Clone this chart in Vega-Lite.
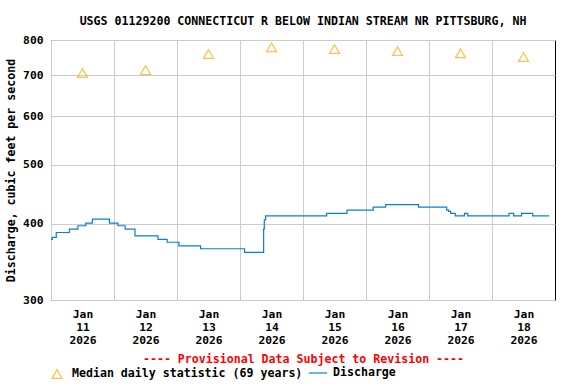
{
  "$schema": "https://vega.github.io/schema/vega-lite/v6.json",
  "width": 504,
  "height": 260,
  "autosize": "none",
  "padding": {"left": 51, "top": 40, "right": 21, "bottom": 84},
  "background": "white",
  "config": {
    "font": "DejaVu Sans Mono",
    "view": {"stroke": "black", "strokeWidth": 1}
  },
  "title": {
    "text": "USGS 01129200 CONNECTICUT R BELOW INDIAN STREAM NR PITTSBURG, NH",
    "font": "DejaVu Sans Mono",
    "fontSize": 11.6,
    "fontWeight": "bold",
    "anchor": "middle",
    "frame": "group",
    "baseline": "bottom",
    "offset": -5,
    "color": "black"
  },
  "datasets": {
    "discharge": [
      {"time": "2026-01-11T00:00:00Z", "cfs": 377},
      {"time": "2026-01-11T00:30:00Z", "cfs": 380},
      {"time": "2026-01-11T02:00:00Z", "cfs": 387},
      {"time": "2026-01-11T07:00:00Z", "cfs": 392},
      {"time": "2026-01-11T10:15:00Z", "cfs": 397},
      {"time": "2026-01-11T13:15:00Z", "cfs": 401},
      {"time": "2026-01-11T15:45:00Z", "cfs": 407},
      {"time": "2026-01-11T22:15:00Z", "cfs": 401},
      {"time": "2026-01-12T01:30:00Z", "cfs": 397},
      {"time": "2026-01-12T04:15:00Z", "cfs": 392},
      {"time": "2026-01-12T08:00:00Z", "cfs": 382},
      {"time": "2026-01-12T16:45:00Z", "cfs": 377},
      {"time": "2026-01-12T20:15:00Z", "cfs": 373},
      {"time": "2026-01-13T00:45:00Z", "cfs": 368},
      {"time": "2026-01-13T09:00:00Z", "cfs": 364},
      {"time": "2026-01-14T01:45:00Z", "cfs": 359},
      {"time": "2026-01-14T09:00:00Z", "cfs": 392},
      {"time": "2026-01-14T09:15:00Z", "cfs": 406},
      {"time": "2026-01-14T09:45:00Z", "cfs": 412},
      {"time": "2026-01-15T09:00:00Z", "cfs": 416},
      {"time": "2026-01-15T16:45:00Z", "cfs": 421},
      {"time": "2026-01-16T02:45:00Z", "cfs": 426},
      {"time": "2026-01-16T07:30:00Z", "cfs": 430},
      {"time": "2026-01-16T20:00:00Z", "cfs": 426},
      {"time": "2026-01-17T06:45:00Z", "cfs": 421},
      {"time": "2026-01-17T07:30:00Z", "cfs": 419},
      {"time": "2026-01-17T08:15:00Z", "cfs": 416},
      {"time": "2026-01-17T10:00:00Z", "cfs": 412},
      {"time": "2026-01-17T13:30:00Z", "cfs": 416},
      {"time": "2026-01-17T14:45:00Z", "cfs": 412},
      {"time": "2026-01-18T06:30:00Z", "cfs": 416},
      {"time": "2026-01-18T08:15:00Z", "cfs": 412},
      {"time": "2026-01-18T11:15:00Z", "cfs": 416},
      {"time": "2026-01-18T15:30:00Z", "cfs": 412},
      {"time": "2026-01-18T21:45:00Z", "cfs": 412}
    ],
    "median": [
      {"time": "2026-01-11T12:00:00Z", "cfs": 706},
      {"time": "2026-01-12T12:00:00Z", "cfs": 714},
      {"time": "2026-01-13T12:00:00Z", "cfs": 759},
      {"time": "2026-01-14T12:00:00Z", "cfs": 778},
      {"time": "2026-01-15T12:00:00Z", "cfs": 773},
      {"time": "2026-01-16T12:00:00Z", "cfs": 767},
      {"time": "2026-01-17T12:00:00Z", "cfs": 761},
      {"time": "2026-01-18T12:00:00Z", "cfs": 750}
    ]
  },
  "encoding": {
    "x": {
      "field": "time",
      "type": "temporal",
      "scale": {
        "type": "utc",
        "domain": [
          {"year": 2026, "month": 1, "date": 11, "utc": true},
          {"year": 2026, "month": 1, "date": 19, "utc": true}
        ]
      },
      "axis": {
        "values": [
          {"year": 2026, "month": 1, "date": 11, "utc": true},
          {"year": 2026, "month": 1, "date": 12, "utc": true},
          {"year": 2026, "month": 1, "date": 13, "utc": true},
          {"year": 2026, "month": 1, "date": 14, "utc": true},
          {"year": 2026, "month": 1, "date": 15, "utc": true},
          {"year": 2026, "month": 1, "date": 16, "utc": true},
          {"year": 2026, "month": 1, "date": 17, "utc": true},
          {"year": 2026, "month": 1, "date": 18, "utc": true}
        ],
        "labelExpr": "[utcFormat(datum.value,'%b'), utcFormat(datum.value,'%d'), utcFormat(datum.value,'%Y')]",
        "labelOffset": 31.5,
        "ticks": false,
        "domain": false,
        "grid": true,
        "gridColor": "#CCCCCC",
        "gridWidth": 1,
        "labelFont": "DejaVu Sans Mono",
        "labelFontWeight": "bold",
        "labelFontSize": 11.3,
        "labelColor": "black",
        "labelLineHeight": 13,
        "labelBaseline": "top",
        "labelAlign": "center",
        "labelPadding": 8,
        "labelFlush": false,
        "labelOverlap": false,
        "title": "---- Provisional Data Subject to Revision ----",
        "titleFont": "DejaVu Sans Mono",
        "titleColor": "#FF0000",
        "titleFontSize": 11.6,
        "titleFontWeight": "bold",
        "titlePadding": 8
      }
    },
    "y": {
      "field": "cfs",
      "type": "quantitative",
      "scale": {"type": "log", "domain": [300, 800], "nice": false, "zero": false},
      "axis": {
        "values": [300, 400, 500, 600, 700, 800],
        "format": "d",
        "ticks": false,
        "domain": false,
        "grid": true,
        "gridColor": "#CCCCCC",
        "gridWidth": 1,
        "labelFont": "DejaVu Sans Mono",
        "labelFontSize": 11.3,
        "labelFontWeight": "bold",
        "labelColor": "black",
        "labelPadding": 8,
        "labelOverlap": false,
        "labelFlush": false,
        "title": "Discharge, cubic feet per second",
        "titleFont": "DejaVu Sans Mono",
        "titleFontSize": 11.6,
        "titleFontWeight": "bold",
        "titleColor": "black",
        "titlePadding": 6
      }
    }
  },
  "layer": [
    {
      "data": {"name": "discharge"},
      "mark": {"type": "line", "interpolate": "step-after", "strokeWidth": 1.2},
      "encoding": {
        "stroke": {
          "datum": "Discharge",
          "scale": {"range": ["#0A7FD0"]},
          "legend": {
            "orient": "none",
            "legendX": 257,
            "legendY": 323,
            "title": null,
            "padding": 0,
            "symbolType": "stroke",
            "symbolSize": 324,
            "symbolStrokeWidth": 1.2,
            "labelOffset": 5,
            "labelLimit": 300,
            "labelFont": "DejaVu Sans Mono",
            "labelFontSize": 11.6,
            "labelFontWeight": "bold",
            "labelColor": "black"
          }
        }
      }
    },
    {
      "data": {"name": "median"},
      "mark": {"type": "point", "shape": "triangle-up", "filled": false, "stroke": "#FFA500", "size": 100, "strokeWidth": 1.2},
      "encoding": {
        "shape": {
          "datum": "Median daily statistic (69 years)",
          "scale": {"range": ["triangle-up"]},
          "legend": {
            "orient": "none",
            "legendX": 0,
            "legendY": 328,
            "title": null,
            "padding": 0,
            "symbolSize": 100,
            "symbolStrokeColor": "#FFA500",
            "symbolFillColor": "transparent",
            "symbolStrokeWidth": 1.2,
            "labelOffset": 9,
            "labelLimit": 300,
            "labelFont": "DejaVu Sans Mono",
            "labelFontSize": 11.6,
            "labelFontWeight": "bold",
            "labelColor": "black"
          }
        }
      }
    }
  ]
}
